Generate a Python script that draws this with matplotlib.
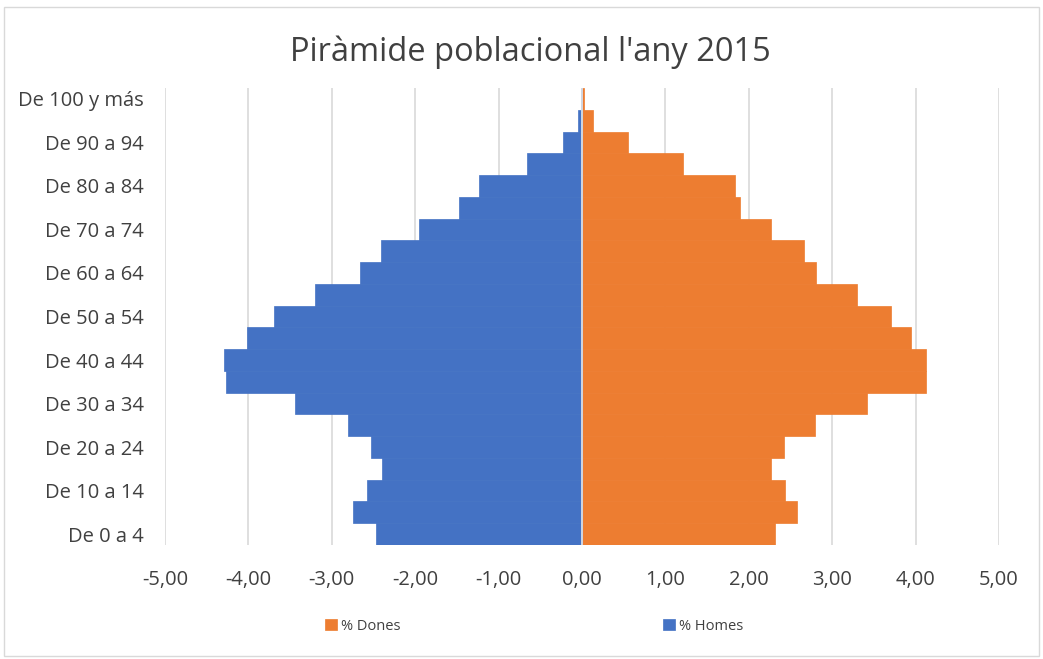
import numpy as np
import matplotlib.pyplot as plt
from matplotlib.patches import Rectangle

plt.rcParams['font.family'] = ['Open Sans', 'DejaVu Sans']

grups = ['De 0 a 4', 'De 5 a 9', 'De 10 a 14', 'De 15 a 19', 'De 20 a 24',
         'De 25 a 29', 'De 30 a 34', 'De 35 a 39', 'De 40 a 44', 'De 45 a 49',
         'De 50 a 54', 'De 55 a 59', 'De 60 a 64', 'De 65 a 69', 'De 70 a 74',
         'De 75 a 79', 'De 80 a 84', 'De 85 a 89', 'De 90 a 94', 'De 95 a 99',
         'De 100 y más']
# homes en negatiu
homes = [-2.47, -2.75, -2.58, -2.40, -2.53, -2.80, -3.44, -4.27, -4.29, -4.02,
         -3.69, -3.20, -2.66, -2.41, -1.96, -1.47, -1.23, -0.66, -0.23, -0.05,
         -0.01]
dones = [2.32, 2.58, 2.43, 2.27, 2.42, 2.79, 3.42, 4.12, 4.12, 3.95,
         3.71, 3.30, 2.80, 2.66, 2.27, 1.90, 1.83, 1.21, 0.55, 0.13,
         0.02]
x_ticks = [-5, -4, -3, -2, -1, 0, 1, 2, 3, 4, 5]

c_dones = '#ed7d31'
c_homes = '#4472c4'

fig = plt.figure(figsize=(10.43, 6.59), dpi=100)
ax = fig.add_axes([165 / 1043, 1 - 545 / 659, (999 - 165) / 1043, (545 - 88) / 659])

y = np.arange(len(grups))
ax.barh(y, dones, height=1.0, color=c_dones, edgecolor=c_dones, linewidth=0.5, label='% Dones', zorder=3)
ax.barh(y, homes, height=1.0, color=c_homes, edgecolor=c_homes, linewidth=0.5, label='% Homes', zorder=3)
ax.axvline(0, color='#e8e8e8', linewidth=1.2, zorder=4)

ax.set_xlim(-5, 5)
ax.set_ylim(-0.5, len(grups) - 0.5)
ax.set_xticks(x_ticks)
ax.set_xticklabels([('%.2f' % v).replace('.', ',') for v in x_ticks], fontsize=14.5, color='#404040')
ax.set_yticks(y[::2])
ax.set_yticklabels(grups[::2], fontsize=14.5, color='#404040')
ax.tick_params(axis='x', length=0, pad=18)
ax.tick_params(axis='y', length=0, pad=15)
ax.grid(axis='x', color='#d9d9d9', linewidth=1.2, zorder=0)
for s in ax.spines.values():
    s.set_visible(False)

fig.suptitle("Piràmide poblacional l'any 2015", x=530 / 1043, y=1 - 52 / 659, va='center',
             fontsize=23.5, color='#404040')

leg = fig.legend(loc='center', bbox_to_anchor=(0.512, 1 - 626 / 659), ncol=2, frameon=False,
                 fontsize=10.5, handlelength=0.8, handleheight=0.8, handletextpad=0.3,
                 columnspacing=18, labelcolor='#404040')

# marc exterior
fig.patches.append(Rectangle((4 / 1043, 0.005), 1 - 8 / 1043, 1 - 7 / 659 - 0.005,
                             transform=fig.transFigure, fill=False,
                             edgecolor='#d9d9d9', linewidth=1))

plt.savefig('out.png', dpi=100)
